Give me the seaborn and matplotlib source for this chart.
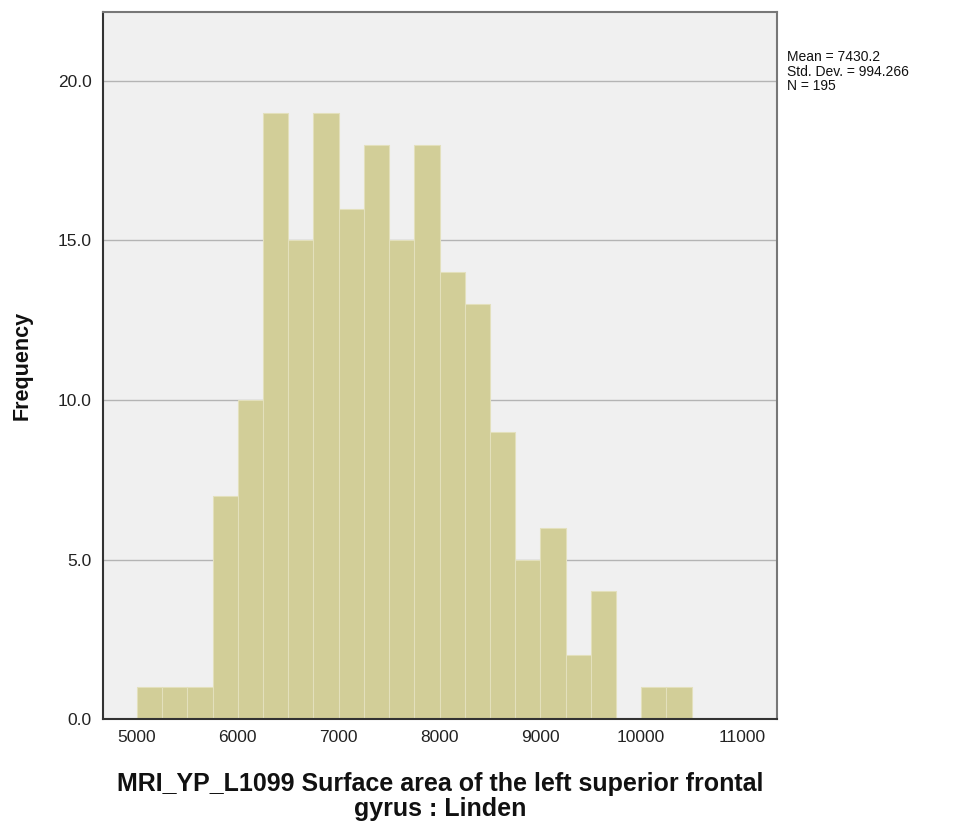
import numpy as np
import matplotlib
matplotlib.use("Agg")
import matplotlib.pyplot as plt
import seaborn as sns

# histogram bins (width 250) and frequencies
bin_edges = [5000, 5250, 5500, 5750, 6000, 6250, 6500, 6750, 7000, 7250, 7500,
             7750, 8000, 8250, 8500, 8750, 9000, 9250, 9500, 9750, 10000, 10250, 10500]
counts = [1, 1, 1, 7, 10, 19, 15, 19, 16, 18, 15, 18, 14, 13, 9, 5, 6, 2, 4, 0, 1, 1]
xticks = [5000, 6000, 7000, 8000, 9000, 10000, 11000]
yticks = [0, 5, 10, 15, 20]
stats_text = "Mean = 7430.2\nStd. Dev. = 994.266\nN = 195"

centers = [(a + b) / 2 for a, b in zip(bin_edges[:-1], bin_edges[1:])]

sns.set_style("white")
plt.rcParams['font.family'] = ['Liberation Sans', 'DejaVu Sans']

fig = plt.figure(figsize=(9.54, 8.3), dpi=100)
ax = fig.add_axes([0.108, 0.1337, 0.7065, 0.8518])
ax.set_facecolor("#F0F0F0")

for y in yticks[1:]:
    ax.axhline(y, color="#B4B4B4", lw=1.0, zorder=0)

sns.histplot(x=centers, weights=counts, bins=bin_edges, ax=ax,
             color="#D2CE98", edgecolor="#E3E0BC", linewidth=0.8, alpha=1, zorder=2)

ax.set_xlim(4663, 11347)
ax.set_ylim(0, 22.16)
ax.set_xticks(xticks)
ax.set_yticks(yticks)
ax.set_yticklabels([f"{v:.1f}" for v in yticks])
ax.tick_params(axis="both", labelsize=12.5, length=0, pad=8, labelcolor="#222222")

for side in ["left", "bottom"]:
    ax.spines[side].set_color("#333333")
    ax.spines[side].set_linewidth(1.5)
for side in ["top", "right"]:
    ax.spines[side].set_color("#777777")
    ax.spines[side].set_linewidth(1.5)

ax.set_ylabel("Frequency", fontsize=15.5, fontweight="bold", labelpad=18, color="#111111")
ax.set_xlabel("MRI_YP_L1099 Surface area of the left superior frontal\ngyrus : Linden",
              fontsize=18, fontweight="bold", labelpad=19, linespacing=1.08,
              color="#111111")

fig.text(787 / 954, 1 - 50 / 830, stats_text, fontsize=10, va="top", ha="left",
         linespacing=1.05, color="#111111")

plt.savefig("out.png", dpi=100)
